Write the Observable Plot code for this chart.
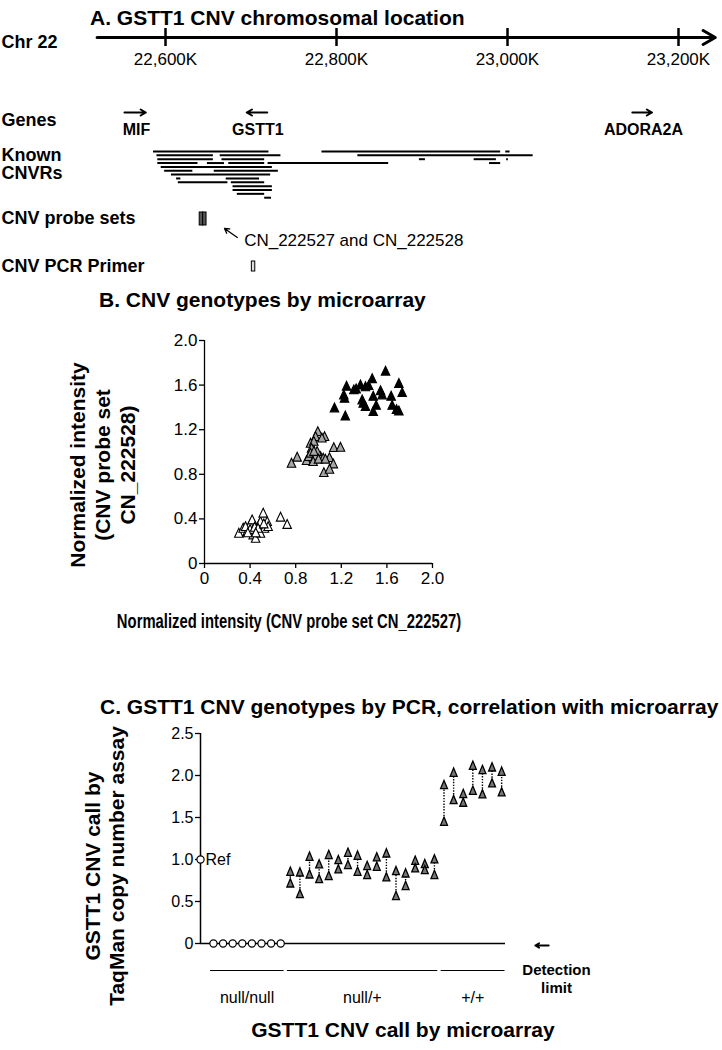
<!DOCTYPE html>
<html><head><meta charset="utf-8">
<script src="https://cdn.jsdelivr.net/npm/d3@7"></script>
<script src="https://cdn.jsdelivr.net/npm/@observablehq/plot@0.6"></script>
<style>
body{margin:0;background:#fff;font-family:"Liberation Sans",Arial,sans-serif;color:#000}
#fig{position:relative;width:722px;height:1050px;overflow:hidden;background:#fff}
#fig svg{position:absolute;left:0}
.abs{position:absolute;white-space:nowrap;text-align:center}
</style></head><body><div id="fig"></div>
<script>
// ---------- Panel A data (positions in kb on chr 22) ----------
const chrTicks = [22600, 22800, 23000, 23200];
const chrSpan = [22520, 23243];
const geneNames = ["MIF", "GSTT1", "ADORA2A"];
const geneFrom = [22552, 22719, 23146];
const geneTo = [22577, 22695, 23169];
const geneLabelPos = [22566, 22708, 23159];
const cnvrRow = [0,0,0, 1,1,1, 2,2,2,2,2, 3,3,3,3,3, 4, 5,5, 6, 7,7, 8,8, 9, 10, 11, 12];
const cnvrStart = [22586,22783,22998, 22590,22664,22825, 22591,22666,22897,22961,22999, 22591,22649,22674,22720,22979, 22595, 22599,22657, 22607, 22613,22671, 22615,22677, 22679, 22679, 22684, 22716];
const cnvrEnd = [22721,22992,23003, 22656,22735,23030, 22656,22716,22904,22987,23001, 22638,22669,22716,22861,22992, 22725, 22632,22732, 22723, 22618,22710, 22673,22716, 22725, 22725, 22716, 22724];
const probeNames = ["CN_222527", "CN_222528"];
const probeStart = [22640, 22644];
const probeEnd = [22644, 22648];
const primerSpan = [22701, 22705];
const noteArrow = [22684, 22669];
const noteTextPos = 22692;
const trackLabels = ["Chr 22", "Genes", "Known\nCNVRs", "CNV probe sets", "CNV PCR Primer"];

// ---------- Panel B data ----------
const bTicks = [0, 0.4, 0.8, 1.2, 1.6, 2.0];
const nullNullX = [0.301,0.339,0.374,0.398,0.418,0.427,0.462,0.477,0.491,0.515,0.526,0.55,0.558,0.448,0.491,0.667,0.725,0.36,0.40,0.44,0.47,0.52,0.38,0.45];
const nullNullY = [0.266,0.311,0.281,0.341,0.386,0.251,0.29,0.341,0.371,0.446,0.311,0.371,0.326,0.221,0.266,0.41,0.345,0.326,0.30,0.32,0.31,0.35,0.27,0.27];
const nullPlusX = [0.994,0.974,1.053,1.03,0.93,0.959,0.939,1.134,1.193,0.895,0.915,0.93,0.974,1.018,1.041,1.096,0.813,0.763,1.13,1.047,1.096,0.953,0.988,0.96,1.0,1.06];
const nullPlusY = [1.178,1.133,1.133,1.12,1.073,1.09,1.028,1.034,1.037,0.918,0.954,0.984,0.96,0.954,0.939,0.945,0.948,0.894,0.888,0.81,0.84,0.909,1.0,1.0,0.93,0.93];
const plusPlusX = [1.588,1.705,1.734,1.471,1.368,1.412,1.31,1.246,1.222,1.228,1.14,1.235,1.544,1.558,1.48,1.383,1.392,1.412,1.506,1.48,1.637,1.646,1.684,1.705,1.44,1.33];
const plusPlusY = [1.72,1.61,1.528,1.652,1.596,1.58,1.552,1.585,1.507,1.477,1.39,1.318,1.545,1.507,1.495,1.462,1.432,1.402,1.413,1.357,1.495,1.413,1.375,1.363,1.59,1.56];

// ---------- Panel C data ----------
const cTicks = [0, 0.5, 1.0, 1.5, 2.0, 2.5];
const nullNullSamples = [0,1,2,3,4,5,6,7];
const pairSamples = d3.range(8, 31);
const pcrHigh = [0.849,0.841,1.028,0.937,1.048,0.988,1.075,1.04,0.917,1.02,1.067,0.857,0.829,0.98,0.94,0.996, 1.881,2.028,1.774,2.111,2.06,2.091,2.04];
const pcrLow  = [0.71,0.583,0.817,0.762,0.798,0.877,0.929,0.849,0.81,0.909,0.782,0.56,0.679,0.889,0.869,0.81, 1.444,1.702,1.671,1.813,1.77,1.901,1.794];
const groupNames = ["null/null", "null/+", "+/+"];
const groupFirst = [0, 8, 24];
const groupLast = [7, 23, 30];
const refValue = 1.0;
const cDomainX = [-1.35, 30.4];

// ---------- helpers ----------
const FONT = '"Liberation Sans", Arial, sans-serif';
const fig = document.getElementById("fig");
function place(svg, top) { svg.style.top = top + "px"; fig.appendChild(svg); }
function label(html, o) {
  const d = document.createElement("div");
  d.className = "abs";
  d.innerHTML = html;
  d.style.fontSize = o.size + "px";
  d.style.fontWeight = o.bold ? "bold" : "normal";
  d.style.lineHeight = (o.lh || o.size) + "px";
  d.style.top = o.cy + "px";
  const sx = o.sx ? ` scaleX(${o.sx})` : "";
  if (o.left != null) { d.style.left = o.left + "px"; d.style.transform = "translateY(-50%)"; }
  else { d.style.left = o.cx + "px"; d.style.transform = "translate(-50%,-50%)" + (o.rotate ? " rotate(-90deg)" : "") + sx; }
  fig.appendChild(d);
}
function tri(wf, hf) {
  return {draw(ctx, size) {
    const rr = Math.sqrt(size / Math.PI), w = wf * rr, h = hf * rr;
    ctx.moveTo(0, -0.62 * h); ctx.lineTo(w / 2, 0.38 * h); ctx.lineTo(-w / 2, 0.38 * h); ctx.closePath();
  }};
}
const fmt1 = d => d === 0 ? "0" : d.toFixed(1);
const baseStyle = {fontFamily: FONT, background: "transparent", overflow: "visible", color: "black"};

// ---------- Panel A ----------
const R = {axis: 37, tickTop: 28, tickBottom: 46, tickLabel: 59, chr: 42, geneArrow: 112, geneLabel: 129,
  genes: 120, known: 164, cnvrTop: 151, cnvrStep: 3.85, probeTop: 212, probeBottom: 225, probes: 218,
  noteFrom: 237, noteTo: 228, note: 240, primerTop: 261, primerBottom: 271, primer: 266};
const trackY = [R.chr, R.genes, R.known, R.probes, R.primer];
const chartA = Plot.plot({
  width: 722, height: 285, margin: 0, style: baseStyle,
  x: {domain: [22600, 23200], range: [165, 678], axis: null},
  y: {domain: [0, 285], range: [0, 285], axis: null},
  marks: [
    Plot.arrow([null], {x1: chrSpan[0], x2: chrSpan[1], y1: R.axis, y2: R.axis, stroke: "black", strokeWidth: 3, headLength: 7}),
    Plot.ruleX(chrTicks, {x: d => d, y1: R.tickTop, y2: R.tickBottom, stroke: "black", strokeWidth: 2.5}),
    Plot.text(chrTicks, {x: d => d, y: R.tickLabel, text: d => d3.format(",")(d) + "K", fontSize: 17}),
    Plot.arrow(geneNames, {x1: (d, i) => geneFrom[i], x2: (d, i) => geneTo[i], y1: R.geneArrow, y2: R.geneArrow, stroke: "black", strokeWidth: 2, headLength: 4.5}),
    Plot.text(geneNames, {x: (d, i) => geneLabelPos[i], y: R.geneLabel, text: d => d, fontWeight: "bold", fontSize: 16}),
    Plot.ruleY(cnvrRow, {y: r => R.cnvrTop + r * R.cnvrStep, x1: (d, i) => cnvrStart[i], x2: (d, i) => cnvrEnd[i], stroke: "black", strokeWidth: 2}),
    Plot.rect(probeNames, {x1: (d, i) => probeStart[i], x2: (d, i) => probeEnd[i], y1: R.probeTop, y2: R.probeBottom, fill: "#555", stroke: "black", strokeWidth: 1}),
    Plot.rect([null], {x1: primerSpan[0], x2: primerSpan[1], y1: R.primerTop, y2: R.primerBottom, fill: "#ddd", stroke: "black", strokeWidth: 1}),
    Plot.arrow([null], {x1: noteArrow[0], x2: noteArrow[1], y1: R.noteFrom, y2: R.noteTo, stroke: "black", strokeWidth: 1.3, headLength: 7}),
    Plot.text([probeNames.join(" and ")], {x: noteTextPos, y: R.note, text: d => d, textAnchor: "start", fontSize: 17}),
    Plot.text(trackLabels, {frameAnchor: "left", dx: 1, y: (d, i) => trackY[i], text: d => d, textAnchor: "start", fontWeight: "bold", fontSize: 18, lineHeight: 1.0})
  ]
});
place(chartA, 0);

// ---------- Panel B ----------
const triB = tri(2.5, 2.6);
const chartB = Plot.plot({
  width: 722, height: 320, marginLeft: 204, marginRight: 290, marginTop: 20, marginBottom: 77, style: baseStyle,
  x: {domain: [0, 2], axis: null},
  y: {domain: [0, 2], axis: null},
  marks: [
    Plot.axisX({ticks: bTicks, tickFormat: fmt1, tickSize: 5, tickPadding: 3, fontSize: 17, label: null, strokeWidth: 1.3}),
    Plot.axisY({ticks: bTicks, tickFormat: fmt1, tickSize: 5, tickPadding: 2, fontSize: 17, label: null, strokeWidth: 1.3}),
    Plot.ruleX([0], {stroke: "black", strokeWidth: 1.3}),
    Plot.ruleY([0], {stroke: "black", strokeWidth: 1.3}),
    Plot.dot(nullNullX, {x: d => d, y: (d, i) => nullNullY[i], symbol: triB, r: 3.4, fill: "white", stroke: "black", strokeWidth: 1.1}),
    Plot.dot(nullPlusX, {x: d => d, y: (d, i) => nullPlusY[i], symbol: triB, r: 3.4, fill: "#a6a6a6", stroke: "black", strokeWidth: 1.1}),
    Plot.dot(plusPlusX, {x: d => d, y: (d, i) => plusPlusY[i], symbol: triB, r: 3.4, fill: "black", stroke: "black", strokeWidth: 1.1})
  ]
});
place(chartB, 320);

// ---------- Panel C ----------
const triC = tri(2.3, 2.75);
const pairs = pairSamples.map((s, i) => ({s, hi: pcrHigh[i], lo: pcrLow[i]}));
const tris = pairs.flatMap(p => [{s: p.s, v: p.hi}, {s: p.s, v: p.lo}]);
const groups = groupNames.map((g, i) => ({g, first: groupFirst[i], last: groupLast[i]}));
const chartC = Plot.plot({
  width: 722, height: 300, marginLeft: 200, marginRight: 217, marginTop: 20, marginBottom: 70, style: baseStyle,
  x: {domain: cDomainX, axis: null},
  y: {domain: [0, 2.5], axis: null},
  marks: [
    Plot.axisY({ticks: cTicks, tickFormat: fmt1, tickSize: 5, tickPadding: 2, fontSize: 16, label: null, strokeWidth: 1.3}),
    Plot.ruleX([cDomainX[0]], {stroke: "black", strokeWidth: 1.5}),
    Plot.ruleY([0], {stroke: "black", strokeWidth: 1.5}),
    Plot.ruleY(groups, {y: 0, x1: d => d.first - 0.3, x2: d => d.last + 0.35, dy: 27, stroke: "black", strokeWidth: 1}),
    Plot.text(groups, {y: 0, x: d => (d.first + d.last) / 2, dy: 54, text: d => d.g, fontSize: 16}),
    Plot.arrow([null], {x1: 34.9, x2: 33.5, y1: 0, y2: 0, dy: 2, stroke: "black", strokeWidth: 1.8, headLength: 4}),
    Plot.text(["Detection\nlimit"], {frameAnchor: "bottom-right", dx: 51, dy: 35, textAnchor: "middle", lineAnchor: "middle", text: d => d, fontWeight: "bold", fontSize: 15, lineHeight: 1.2}),
    Plot.ruleX(pairs, {x: "s", y1: "lo", y2: "hi", stroke: "black", strokeWidth: 1.4, strokeDasharray: "1.4,1.4"}),
    Plot.dot(tris, {x: "s", y: "v", symbol: triC, r: 3, fill: "#777", stroke: "black", strokeWidth: 1.3}),
    Plot.dot(nullNullSamples, {x: d => d, y: 0, r: 3.6, fill: "white", stroke: "black", strokeWidth: 1.2}),
    Plot.dot([refValue], {frameAnchor: "left", y: d => d, r: 3.6, fill: "white", stroke: "black", strokeWidth: 1.2}),
    Plot.text([refValue], {frameAnchor: "left", y: d => d, dx: 5, text: () => "Ref", textAnchor: "start", fontSize: 16})
  ]
});
place(chartC, 713);

// ---------- Titles ----------
label("A. GSTT1 CNV chromosomal location", {left: 90, cy: 17, size: 21, bold: true});
label("B. CNV genotypes by microarray", {left: 99, cy: 299, size: 21, bold: true});
label("Normalized intensity<br>(CNV probe set<br>CN_222528)", {cx: 102, cy: 465, size: 21, bold: true, rotate: true, lh: 25});
label("Normalized intensity (CNV probe set CN_222527)", {cx: 289, cy: 622, size: 19.5, bold: true, sx: 0.76});
label("C. GSTT1 CNV genotypes by PCR, correlation with microarray", {left: 100, cy: 706, size: 21, bold: true});
label("GSTT1 CNV call by<br>TaqMan copy number assay", {cx: 105, cy: 866, size: 21, bold: true, rotate: true, lh: 24});
label("GSTT1 CNV call by microarray", {cx: 403, cy: 1029, size: 21, bold: true});
</script></body></html>
